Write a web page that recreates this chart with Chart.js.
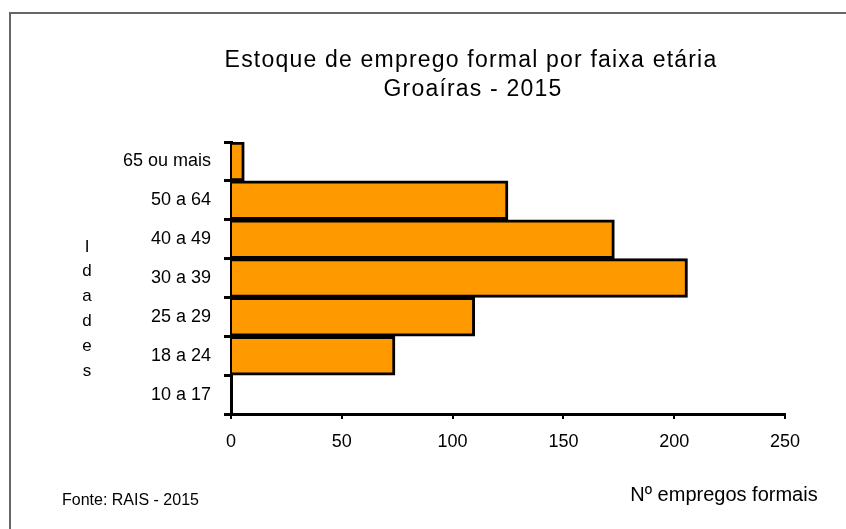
<!DOCTYPE html>
<html>
<head>
<meta charset="utf-8">
<script src="https://cdn.jsdelivr.net/npm/chart.js@4/dist/chart.umd.min.js"></script>
<style>
  html, body { margin: 0; padding: 0; background: #fff; }
  #wrap { width: 846px; height: 529px; position: relative; }
</style>
</head>
<body>
<div id="wrap"><canvas id="myChart" width="846" height="529"></canvas></div>
<script>
// data
const ageGroups = ['65 ou mais', '50 a 64', '40 a 49', '30 a 39', '25 a 29', '18 a 24', '10 a 17'];
const jobCounts = [6, 125, 173, 206, 110, 74, 0];
const xTicks = [0, 50, 100, 150, 200, 250];
const titleLines = ['Estoque de emprego formal por faixa etária', 'Groaíras - 2015'];
const yTitle = 'Idades';
const xTitle = 'Nº empregos formais';
const sourceNote = 'Fonte: RAIS - 2015';

const FONT = '"Liberation Sans", Arial, sans-serif';

// draws the frame, titles and notes around the plot
const extras = {
    id: 'extras',
    afterDraw(chart) {
        const ctx = chart.ctx;
        ctx.save();
        ctx.strokeStyle = '#666';
        ctx.lineWidth = 2;
        ctx.strokeRect(10, 13, 900, 600);

        ctx.fillStyle = '#000';
        ctx.textAlign = 'center';
        ctx.textBaseline = 'middle';
        ctx.font = '23px ' + FONT;
        ctx.letterSpacing = '1.2px';
        ctx.fillText(titleLines[0], 471, 61);
        ctx.fillText(titleLines[1], 473, 90);
        ctx.letterSpacing = '0px';

        ctx.font = '17px ' + FONT;
        const letters = yTitle.split('');
        letters.forEach((ch, i) => {
            ctx.fillText(ch, 87, 247 + i * 24.8);
        });

        ctx.font = '20px ' + FONT;
        ctx.fillText(xTitle, 724, 495);

        ctx.font = '16px ' + FONT;
        ctx.textAlign = 'left';
        ctx.fillText(sourceNote, 62, 501);
        ctx.restore();
    }
};

const ctx = document.getElementById('myChart').getContext('2d');
new Chart(ctx, {
    type: 'bar',
    data: {
        labels: ageGroups,
        datasets: [{
            data: jobCounts,
            backgroundColor: '#FF9900',
            borderColor: '#000',
            borderWidth: 3,
            borderSkipped: 'start',
            barPercentage: 1,
            categoryPercentage: 1
        }]
    },
    plugins: [extras],
    options: {
        indexAxis: 'y',
        responsive: false,
        animation: false,
        layout: { padding: { top: 142, right: 61, left: 0, bottom: 0 } },
        plugins: {
            legend: { display: false },
            tooltip: { enabled: false }
        },
        scales: {
            x: {
                min: 0,
                max: 250,
                afterBuildTicks: axis => { axis.ticks = xTicks.map(v => ({ value: v })); },
                afterFit: axis => { axis.height = 115; },
                border: { color: '#000', width: 3 },
                grid: { drawOnChartArea: false, color: '#000', lineWidth: 2, tickLength: 5 },
                ticks: { color: '#000', font: { family: FONT, size: 18 }, padding: 12, maxRotation: 0 }
            },
            y: {
                afterFit: axis => { axis.width = 231; },
                border: { color: '#000', width: 3 },
                grid: { offset: true, drawOnChartArea: false, color: '#000', lineWidth: 3, tickLength: 7 },
                ticks: { color: '#000', font: { family: FONT, size: 18 }, padding: 13 }
            }
        }
    }
});
</script>
</body>
</html>
